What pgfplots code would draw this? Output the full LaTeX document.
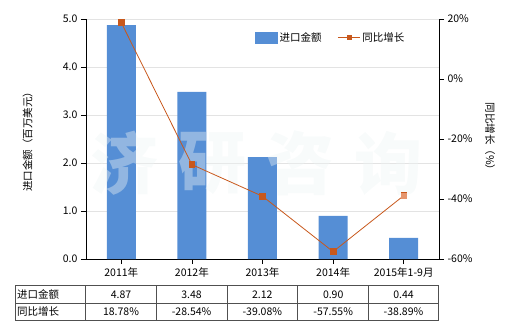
\documentclass[border=0pt]{standalone}
\usepackage{fontspec}
\setmainfont{Noto Sans CJK SC}
\usepackage{pgfplots}
\pgfplotsset{compat=1.18}
\definecolor{barblue}{RGB}{85,142,213}
\definecolor{lineorange}{RGB}{200,88,28}
\definecolor{lightorange}{RGB}{230,150,110}
\definecolor{wm}{RGB}{238,244,244}
\definecolor{tablegray}{RGB}{80,80,80}
\begin{document}
\begin{tikzpicture}[font=\fontsize{10.5}{12}\selectfont]
\path[use as bounding box] (0,0) rectangle (520pt,330pt);
\begin{axis}[at={(86pt,71pt)}, anchor=south west, scale only axis,
  width=353pt, height=240pt,
  xmin=-0.5, xmax=4.5, ymin=0, ymax=5,
  ybar, bar width=29pt,
  axis x line*=bottom, axis y line*=left,
  xtick={0,...,4}, xticklabels={2011年,2012年,2013年,2014年,2015年1-9月},
  ytick={0,1,...,5},
  yticklabel style={/pgf/number format/.cd, fixed, fixed zerofill, precision=1},
  /pgf/number format/assume math mode=true,
  ymajorgrids, grid style={gray!22, line width=0.7pt},
  tick style={black, line width=0.7pt}, tick align=outside, major tick length=5pt,
  axis line style={black, line width=0.9pt},
  ylabel={进口金额（百万美元）},
  ylabel style={at={(axis description cs:-0.165,0.5)}, anchor=center},
]
\addplot[fill=barblue, draw=none] coordinates {(0,4.87) (1,3.48) (2,2.12) (3,0.90) (4,0.44)};
\end{axis}
\begin{scope}[opacity=0.4]
\node[text=wm, font=\fontsize{68}{70}\selectfont\bfseries] at (124pt,167pt) {济};
\node[text=wm, font=\fontsize{68}{70}\selectfont\bfseries] at (212pt,167pt) {研};
\node[text=wm, font=\fontsize{68}{70}\selectfont\bfseries] at (300pt,167pt) {咨};
\node[text=wm, font=\fontsize{68}{70}\selectfont\bfseries] at (388pt,167pt) {询};
\end{scope}
\begin{axis}[at={(86pt,71pt)}, anchor=south west, scale only axis,
  width=353pt, height=240pt,
  xmin=-0.5, xmax=4.5, ymin=-60, ymax=20,
  axis y line*=right, axis x line=none,
  ytick={-60,-40,...,20},
  yticklabel={\pgfmathprintnumber{\tick}\%},
  /pgf/number format/assume math mode=true,
  tick style={black, line width=0.7pt}, tick align=outside, major tick length=5pt,
  axis line style={black, line width=0.9pt},
  legend columns=2,
  legend style={draw=none, fill=none, at={(axis description cs:0.47,0.923)}, anchor=west,
    /tikz/every even column/.append style={column sep=14pt}},
  legend cell align=left,
]
\addlegendimage{legend image code/.code={\fill[barblue] (0pt,-5.5pt) rectangle (22pt,5.5pt);}}
\addlegendentry{进口金额}
\addplot[lineorange, line width=0.8pt, mark=square*, mark size=2.8pt,
  legend image code/.code={\draw[lineorange, line width=0.8pt, mark=square*, mark size=2pt, mark repeat=2, mark phase=2] plot coordinates {(0pt,0pt) (11pt,0pt) (22pt,0pt)};}]
  coordinates {(0,18.78) (1,-28.54) (2,-39.08) (3,-57.55) (4,-38.89)};
\addlegendentry{同比增长}
\addplot[only marks, lightorange, mark=square*, mark size=2.8pt, forget plot] coordinates {(4,-38.89)};
\end{axis}
\node[rotate=-90] at (490pt,191pt) {同比增长（\%）};
% data table
\begin{scope}[tablegray, line width=0.7pt]
\draw (15.7pt,9.5pt) rectangle (438.3pt,44.3pt);
\draw (15.7pt,27pt) -- (438.3pt,27pt);
\foreach \x in {85.7,156.3,227,297.7,368.7} {\draw (\x pt,9.5pt) -- (\x pt,44.3pt);}
\end{scope}
\node[anchor=west, inner sep=0pt] at (17pt,35.6pt) {进口金额};
\node[anchor=west, inner sep=0pt] at (17pt,18.2pt) {同比增长};
\foreach \x/\a/\b in {121/4.87/18.78\%, 191.6/3.48/-28.54\%, 262.3/2.12/-39.08\%, 333.2/0.90/-57.55\%, 403.5/0.44/-38.89\%} {
  \node at (\x pt,35.6pt) {\a};
  \node at (\x pt,18.2pt) {\b};
}
\end{tikzpicture}
\end{document}
